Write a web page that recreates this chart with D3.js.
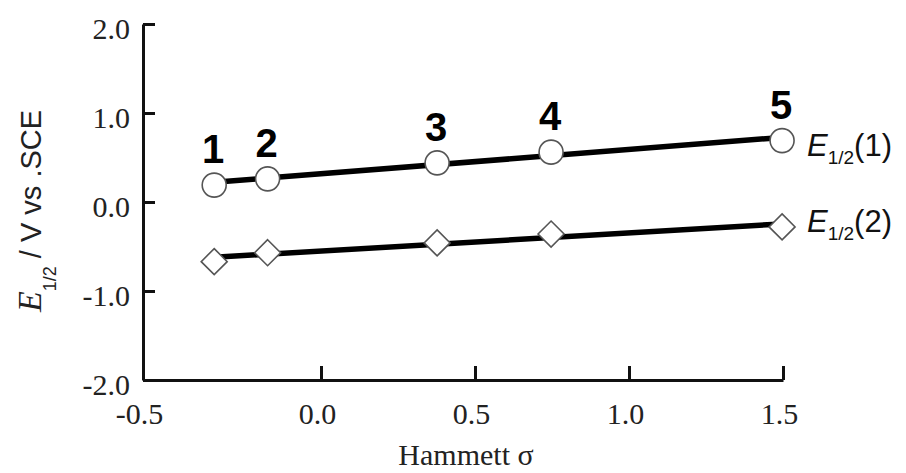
<!DOCTYPE html>
<html>
<head>
<meta charset="utf-8">
<script src="https://cdn.jsdelivr.net/npm/d3@7"></script>
<style>
    body { margin: 0; background: #fff; }
    svg { display: block; }
</style>
</head>
<body>
<div id="chart"></div>
<script>
// Hammett sigma of the five compounds and their two half-wave potentials
var compounds = ['1', '2', '3', '4', '5'],
    sigma = [-0.30, -0.15, 0.377, 0.747, 1.497],
    e1 = [0.19, 0.26, 0.44, 0.56, 0.69],
    e2 = [-0.67, -0.57, -0.46, -0.36, -0.28],
    xTicks = [-0.5, 0.0, 0.5, 1.0, 1.5],
    yTicks = [-2.0, -1.0, 0.0, 1.0, 2.0];

var width = 906,
    height = 473;

var svg = d3.select('#chart')
    .append('svg')
    .attr('width', width)
    .attr('height', height);

// the printed axis is not quite even: the -0.5 end is stretched
var x = d3.scaleLinear()
    .domain([-0.5, 0, 1.5])
    .range([143, 321, 783]);

var y = d3.scaleLinear()
    .domain([-2, 2])
    .range([380, 24]);

// plain hyphen for negatives, as in the print
var fmt = function (d) { return d3.format('.1f')(d).replace('\u2212', '-'); };

function fitLine(xs, ys) {
    var mx = d3.mean(xs),
        my = d3.mean(ys),
        sxy = 0,
        sxx = 0,
        i;
    for (i = 0; i < xs.length; i += 1) {
        sxy += (xs[i] - mx) * (ys[i] - my);
        sxx += (xs[i] - mx) * (xs[i] - mx);
    }
    var b = sxy / sxx,
        x0 = d3.min(xs),
        x1 = d3.max(xs);
    return [[x0, my + b * (x0 - mx)], [x1, my + b * (x1 - mx)]];
}

// axes
var xAxis = d3.axisBottom(x)
    .tickValues(xTicks)
    .tickFormat(fmt)
    .tickSizeInner(-14)
    .tickSizeOuter(0)
    .tickPadding(23);

var yAxis = d3.axisLeft(y)
    .tickValues(yTicks)
    .tickFormat(fmt)
    .tickSizeInner(-12)
    .tickSizeOuter(0)
    .tickPadding(13);

var gx = svg.append('g')
    .attr('transform', 'translate(0,' + y(-2) + ')')
    .call(xAxis);

var gy = svg.append('g')
    .attr('transform', 'translate(' + x(-0.5) + ',0)')
    .call(yAxis);

[gx, gy].forEach(function (g) {
    g.selectAll('.domain, .tick line')
        .attr('stroke', '#111')
        .attr('stroke-width', 3);
    g.selectAll('.tick text')
        .attr('fill', '#222')
        .style('font-family', '"Liberation Serif", "Times New Roman", serif')
        .style('font-size', '30px');
});
gx.selectAll('.tick text').attr('dx', -4);
gy.selectAll('.tick text').attr('dy', '0.47em');
// the -0.5 tick sits on the y axis
gx.selectAll('.tick line').filter(function (d) { return d === -0.5; }).remove();

// fitted lines
var line = d3.line()
    .x(function (d) { return x(d[0]); })
    .y(function (d) { return y(d[1]); });

[e1, e2].forEach(function (ys) {
    svg.append('path')
        .attr('d', line(fitLine(sigma, ys)))
        .attr('fill', 'none')
        .attr('stroke', '#000')
        .attr('stroke-width', 5.5);
});

// markers
var pts1 = sigma.map(function (s, i) { return [s, e1[i]]; }),
    pts2 = sigma.map(function (s, i) { return [s, e2[i]]; });

svg.selectAll('.circ')
    .data(pts1)
    .enter().append('circle')
    .attr('class', 'circ')
    .attr('cx', function (d) { return x(d[0]); })
    .attr('cy', function (d) { return y(d[1]); })
    .attr('r', 12)
    .attr('fill', '#fff')
    .attr('stroke', '#555')
    .attr('stroke-width', 1.6);

svg.selectAll('.diam')
    .data(pts2)
    .enter().append('path')
    .attr('class', 'diam')
    .attr('transform', function (d) { return 'translate(' + x(d[0]) + ',' + y(d[1]) + ')'; })
    .attr('d', 'M0,-13L13,0L0,13L-13,0Z')
    .attr('fill', '#fff')
    .attr('stroke', '#555')
    .attr('stroke-width', 1.6);

// compound numbers
svg.selectAll('.num')
    .data(pts1)
    .enter().append('text')
    .attr('class', 'num')
    .attr('x', function (d) { return x(d[0]) - 1; })
    .attr('y', function (d) { return y(d[1]) - 22; })
    .attr('text-anchor', 'middle')
    .style('font-family', '"Liberation Sans", Arial, sans-serif')
    .style('font-weight', 'bold')
    .style('font-size', '40px')
    .attr('fill', '#000')
    .text(function (d, i) { return compounds[i]; });

// series labels
function seriesLabel(ty, n) {
    var t = svg.append('text')
        .attr('x', 807)
        .attr('y', ty)
        .attr('fill', '#111')
        .style('font-family', '"Liberation Sans", Arial, sans-serif')
        .style('font-size', '31px');
    t.append('tspan').style('font-style', 'italic').text('E');
    t.append('tspan').attr('dy', 8).style('font-size', '19px').text('1/2');
    t.append('tspan').attr('dy', -8).text('(' + n + ')');
}
seriesLabel(156, 1);
seriesLabel(232, 2);

// axis titles
svg.append('text')
    .attr('x', 466)
    .attr('y', 465)
    .attr('text-anchor', 'middle')
    .attr('fill', '#222')
    .style('font-family', '"Liberation Serif", "Times New Roman", serif')
    .style('font-size', '30px')
    .text('Hammett σ');

var yt = svg.append('text')
    .attr('transform', 'translate(41,211) rotate(-90)')
    .attr('text-anchor', 'middle')
    .attr('fill', '#222')
    .style('font-family', '"Liberation Sans", Arial, sans-serif')
    .style('font-size', '29px');
yt.append('tspan')
    .style('font-family', '"Liberation Serif", "Times New Roman", serif')
    .style('font-style', 'italic')
    .style('font-size', '34px')
    .text('E');
yt.append('tspan').attr('dy', 15).style('font-size', '18px').text('1/2');
yt.append('tspan').attr('dy', -15).text(' / V vs .SCE');
</script>
</body>
</html>
